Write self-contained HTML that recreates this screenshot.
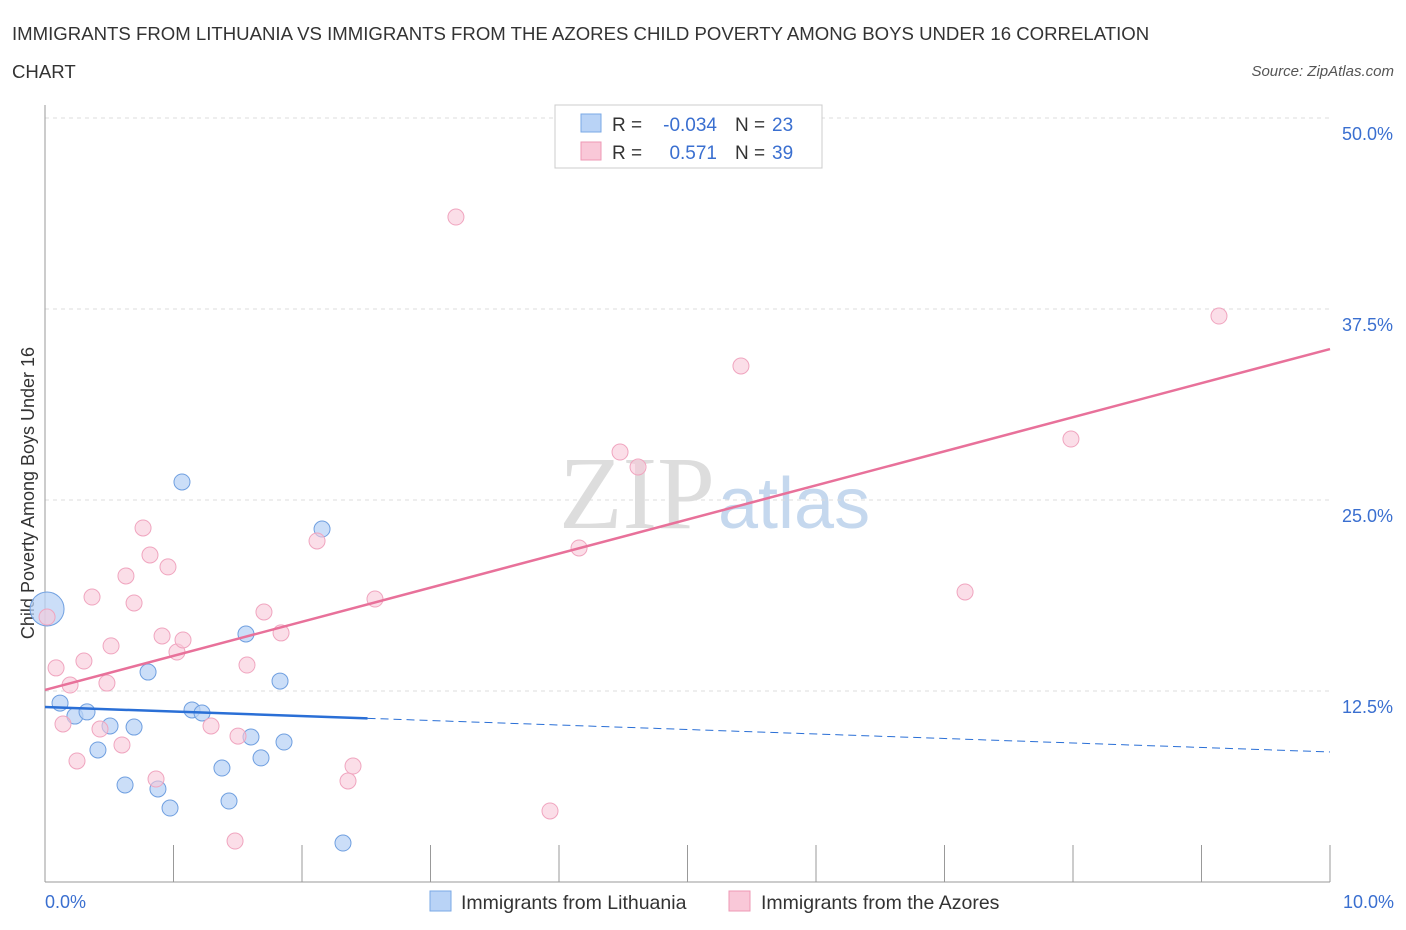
<!DOCTYPE html>
<html><head><meta charset="utf-8"><style>
body{margin:0;background:#fff;font-family:"Liberation Sans",sans-serif;}
svg{display:block}
</style></head><body>
<svg id="c" width="1406" height="930">
<text x="12" y="40" font-size="18.6" fill="#333">IMMIGRANTS FROM LITHUANIA VS IMMIGRANTS FROM THE AZORES CHILD POVERTY AMONG BOYS UNDER 16 CORRELATION</text>
<text x="12" y="78" font-size="18.6" fill="#333">CHART</text>
<text x="1394" y="76" font-size="15" fill="#555" font-style="italic" text-anchor="end">Source: ZipAtlas.com</text>
<text x="715" y="528" font-size="104" fill="#ddd" text-anchor="end" font-family="Liberation Serif,serif">ZIP</text>
<text x="718" y="528" font-size="72" fill="#c5d8ee">atlas</text>
<text transform="translate(34,493) rotate(-90)" font-size="18" fill="#333" text-anchor="middle">Child Poverty Among Boys Under 16</text>
<g id="grid"></g><g id="marks"></g>
<g>
<rect x="555" y="105" width="267" height="63" fill="#fff" stroke="#ccc"/>
<rect x="581" y="114" width="20" height="18" fill="#b9d3f6" stroke="#7aa8e6"/>
<rect x="581" y="142" width="20" height="18" fill="#f9c8d8" stroke="#ee98b5"/>
<text x="612" y="131" font-size="19" fill="#333">R =</text>
<text x="717" y="131" font-size="19" fill="#3a6fd0" text-anchor="end">-0.034</text>
<text x="735" y="131" font-size="19" fill="#333">N =</text>
<text x="772" y="131" font-size="19" fill="#3a6fd0">23</text>
<text x="612" y="159" font-size="19" fill="#333">R =</text>
<text x="717" y="159" font-size="19" fill="#3a6fd0" text-anchor="end">0.571</text>
<text x="735" y="159" font-size="19" fill="#333">N =</text>
<text x="772" y="159" font-size="19" fill="#3a6fd0">39</text>
</g>
<g>
<rect x="430" y="891" width="21" height="20" fill="#b9d3f6" stroke="#7aa8e6"/>
<text x="461" y="909" font-size="19.5" fill="#333">Immigrants from Lithuania</text>
<rect x="729" y="891" width="21" height="20" fill="#f9c8d8" stroke="#ee98b5"/>
<text x="761" y="909" font-size="19.5" fill="#333">Immigrants from the Azores</text>
</g>
</svg>
<script>
const yTicks=[12.5,25,37.5,50];
const yTickLabels=["12.5%","25.0%","37.5%","50.0%"];
const xTickLabels=["0.0%","10.0%"];
const blueX=[0.016,0.117,0.233,0.327,0.412,0.506,0.623,0.693,0.802,0.879,0.973,1.066,1.144,1.222,1.377,1.432,1.564,1.603,1.681,1.829,1.860,2.156,2.319];
const blueY=[17.87,11.71,10.86,11.13,8.64,10.21,6.35,10.14,13.74,6.09,4.84,26.18,11.26,11.06,7.46,5.30,16.23,9.49,8.12,13.15,9.16,23.10,2.55];
const pinkX=[0.016,0.086,0.140,0.195,0.249,0.303,0.366,0.428,0.482,0.514,0.599,0.630,0.693,0.763,0.817,0.864,0.911,0.957,1.027,1.074,1.292,1.479,1.502,1.572,1.704,1.837,2.117,2.358,2.397,2.568,3.198,3.930,4.156,4.475,4.615,5.416,7.160,7.984,9.136];
const pinkY=[17.34,14.01,10.34,12.89,7.92,14.46,18.65,10.01,13.02,15.45,8.97,20.03,18.26,23.17,21.40,6.74,16.10,20.62,15.05,15.84,10.21,2.68,9.55,14.20,17.67,16.30,22.32,6.61,7.59,18.52,43.52,4.65,21.86,28.14,27.16,33.77,18.98,28.99,37.04];
const blueTrend=[11.45,8.51];
const pinkTrend=[12.57,34.88];
const NS="http://www.w3.org/2000/svg";
const X=v=>45+v*128.5, Y=v=>882-v*15.28;
function mk(p,t,a){const e=document.createElementNS(NS,t);for(const k in a)e.setAttribute(k,a[k]);p.appendChild(e);return e;}
const g=document.getElementById('grid'),m=document.getElementById('marks');
yTicks.forEach((t,i)=>{
 const l=mk(g,'line',{x1:45,x2:1330,y1:Y(t),y2:Y(t),stroke:'#ddd','stroke-dasharray':'4,4'});
 
 
 const tx=mk(g,'text',{x:1393,y:Y(t)+22,'font-size':18,fill:'#3a6fd0','text-anchor':'end'});
 tx.textContent=yTickLabels[i];
 
 
});
mk(g,'line',{x1:45,x2:45,y1:105,y2:882,stroke:'#999'});
mk(g,'line',{x1:45,x2:1330,y1:882,y2:882,stroke:'#999'});
for(let i=0;i<=10;i++){mk(g,'line',{x1:X(i),x2:X(i),y1:845,y2:882,stroke:'#999'});}
const x0=mk(g,'text',{x:45,y:908,'font-size':18,fill:'#3a6fd0'});x0.textContent=xTickLabels[0];


const x1=mk(g,'text',{x:1394,y:908,'font-size':18,fill:'#3a6fd0','text-anchor':'end'});x1.textContent=xTickLabels[1];


blueX.forEach((v,i)=>{
 const c=mk(m,'circle',{cx:X(v),cy:Y(blueY[i]),r:i==0?17:8,fill:'#b9d3f6','fill-opacity':0.75,stroke:'#6f9fe0','stroke-width':1});
 
 
});
pinkX.forEach((v,i)=>{
 const c=mk(m,'circle',{cx:X(v),cy:Y(pinkY[i]),r:8,fill:'#f9c8d8','fill-opacity':0.6,stroke:'#f0a5bf','stroke-width':1});
 
 
});
const bAt=x=>blueTrend[0]+(blueTrend[1]-blueTrend[0])*x/10;
const bl=mk(m,'line',{x1:X(0),y1:Y(bAt(0)),x2:X(2.51),y2:Y(bAt(2.51)),stroke:'#2a6fd6','stroke-width':2.5});


const bd=mk(m,'line',{x1:X(2.51),y1:Y(bAt(2.51)),x2:X(10),y2:Y(bAt(10)),stroke:'#2a6fd6','stroke-width':1,'stroke-dasharray':'8,5'});


const pl=mk(m,'line',{x1:X(0),y1:Y(pinkTrend[0]),x2:X(10),y2:Y(pinkTrend[1]),stroke:'#e8719a','stroke-width':2.5});


</script>
</body></html>
